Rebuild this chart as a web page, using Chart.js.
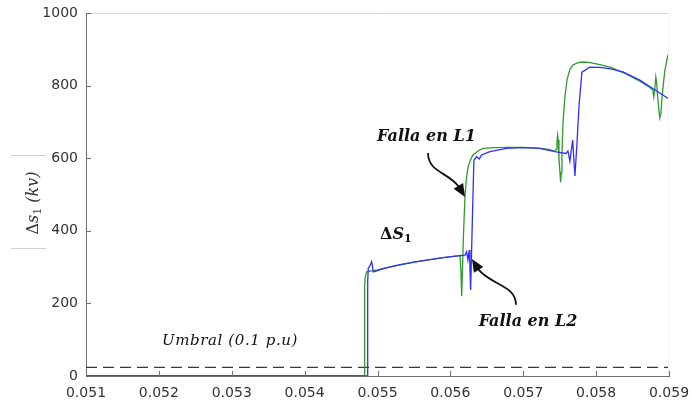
<!DOCTYPE html>
<html>
<head>
<meta charset="utf-8">
<script src="https://cdn.jsdelivr.net/npm/chart.js@4/dist/chart.umd.min.js"></script>
<style>
html,body{margin:0;padding:0;background:#fff;}
#wrap{width:691px;height:409px;position:relative;}
canvas{display:block;}
</style>
</head>
<body>
<div id="wrap"><canvas id="c" width="691" height="409"></canvas></div>
<script>
// Axis ranges
const xRange = [0.051, 0.059];
const xStep = 0.001;
const yRange = [0, 1000];
const yStep = 200;

// Green trace: time (s) / ΔS1 (kv)
const greenT = [0.0510, 0.054818, 0.054822, 0.054826, 0.054832, 0.054852, 0.05490, 0.05500, 0.05510, 0.05530,
                0.05550, 0.05570, 0.05590, 0.05610, 0.056132, 0.056145, 0.056155, 0.056166, 0.056177, 0.05620,
                0.05622, 0.056245, 0.05628, 0.05631, 0.05638, 0.056447, 0.05660, 0.05680, 0.05700, 0.05720,
                0.05735, 0.057435, 0.057455, 0.057463, 0.057472, 0.05748, 0.05749, 0.057513, 0.057522, 0.057531,
                0.057545, 0.057572, 0.05760, 0.05764, 0.057682, 0.05775, 0.057819, 0.05790, 0.058052, 0.05820,
                0.058368, 0.05860, 0.058737, 0.058778, 0.058792, 0.058805, 0.058819, 0.05883, 0.05884, 0.05886,
                0.058874, 0.05889, 0.058901, 0.05892, 0.058942, 0.05897, 0.05900];
const greenV = [0, 0, 150, 250, 273, 287, 289, 292, 297, 306,
                314, 320, 326, 331, 332, 290, 220, 290, 375, 494,
                545, 577, 597, 609, 620, 627, 629, 630, 630, 628,
                624, 619, 625, 645, 664, 650, 600, 534, 560, 610,
                697, 770, 815, 845, 857, 863, 865, 864, 858, 850,
                836, 812, 795, 788, 769, 790, 824, 810, 780, 735,
                711, 725, 760, 800, 840, 870, 893];

// Blue trace: time (s) / ΔS1 (kv)
const blueT = [0.0510, 0.054859, 0.054863, 0.054868, 0.054873, 0.05490, 0.05492, 0.054942, 0.05500, 0.055079,
               0.05530, 0.05550, 0.05570, 0.05590, 0.05610, 0.05620, 0.056223, 0.05624, 0.056259, 0.056268,
               0.056278, 0.056292, 0.056306, 0.056323, 0.05636, 0.056396, 0.056429, 0.056543, 0.056772, 0.05700,
               0.057229, 0.057435, 0.057586, 0.057613, 0.05764, 0.057678, 0.057709, 0.057737, 0.057764, 0.057805,
               0.057846, 0.057888, 0.057915, 0.058052, 0.05820, 0.058368, 0.05860, 0.058778, 0.05900];
const blueV = [0, 0, 150, 260, 296, 305, 315, 287, 290, 296,
               306, 314, 320, 326, 331, 333, 342, 320, 347, 300,
               237, 350, 466, 595, 604, 598, 609, 618, 627, 629,
               627, 618, 613, 620, 592, 650, 551, 640, 741, 837,
               842, 848, 851, 850, 846, 838, 815, 792, 763];

// Detection threshold
const umbral = 24;

const toXY = (t, v) => t.map((x, i) => ({x, y: v[i]}));

// Callouts (anchored in data units)
const labelL1 = {text: 'Falla en L1', x: 0.055672, y: 660};
const labelL2 = {text: 'Falla en L2', x: 0.057065, y: 150};
const labelDS = {x: 0.055034, y: 394};
const labelUmbral = {text: 'Umbral (0.1 p.u)', x: 0.052976, y: 96};
const arrowL1 = [[0.055693, 614], [0.055693, 562], [0.055967, 562], [0.056118, 521], [0.056201, 493]];
const arrowL2 = [[0.0569005, 196], [0.0569005, 251], [0.056544, 251], [0.056379, 295], [0.056297, 322]];

const AXIS = '#6e6e6e';
const TXT = '#333333';

const decor = {
  id: 'decor',
  afterDraw(chart) {
    const {ctx, chartArea: a, scales: {x, y}} = chart;
    const X = v => x.getPixelForValue(v), Y = v => y.getPixelForValue(v);
    ctx.save();
    // light frame top / right
    ctx.lineWidth = 1;
    ctx.strokeStyle = '#d8d8d8';
    ctx.beginPath(); ctx.moveTo(a.left, Math.round(a.top) + 0.5); ctx.lineTo(a.right, Math.round(a.top) + 0.5); ctx.stroke();
    ctx.strokeStyle = '#f2f2f2';
    ctx.beginPath(); ctx.moveTo(Math.round(a.right) - 0.5, a.top); ctx.lineTo(Math.round(a.right) - 0.5, a.bottom); ctx.stroke();
    // inward tick marks
    ctx.strokeStyle = AXIS;
    x.ticks.forEach(t => {
      const p = Math.round(X(t.value)) + 0.5;
      ctx.beginPath(); ctx.moveTo(p, a.bottom); ctx.lineTo(p, a.bottom - 5); ctx.stroke();
    });
    y.ticks.forEach(t => {
      const p = Math.round(Y(t.value)) + 0.5;
      ctx.beginPath(); ctx.moveTo(a.left, p); ctx.lineTo(a.left + 5, p); ctx.stroke();
    });

    // y-axis title: Δs1 (kv)
    ctx.strokeStyle = '#cfcfcf';
    ctx.beginPath(); ctx.moveTo(11, 155.5); ctx.lineTo(46, 155.5); ctx.stroke();
    ctx.beginPath(); ctx.moveTo(11, 248.5); ctx.lineTo(46, 248.5); ctx.stroke();
    ctx.save();
    ctx.translate(38, 203);
    ctx.rotate(-Math.PI / 2);
    ctx.fillStyle = TXT;
    ctx.textBaseline = 'alphabetic';
    const parts = [
      ['Δ', '16px "DejaVu Serif"', 0],
      ['s', 'italic 16px "DejaVu Serif"', 0],
      ['1', '11px "DejaVu Serif"', 3],
      [' (kv)', 'italic 16px "DejaVu Serif"', 0]
    ];
    let w = 0;
    parts.forEach(p => { ctx.font = p[1]; w += ctx.measureText(p[0]).width; });
    let cx = -w / 2;
    parts.forEach(p => { ctx.font = p[1]; ctx.fillText(p[0], cx, p[2]); cx += ctx.measureText(p[0]).width; });
    ctx.restore();

    // callout texts
    ctx.fillStyle = '#111';
    ctx.textBaseline = 'middle';
    ctx.textAlign = 'center';
    ctx.font = 'bold italic 16px "DejaVu Serif"';
    ctx.fillText(labelL1.text, X(labelL1.x), Y(labelL1.y));
    ctx.fillText(labelL2.text, X(labelL2.x), Y(labelL2.y));
    ctx.letterSpacing = '0.6px';
    ctx.font = 'italic 15px "DejaVu Serif"';
    ctx.fillText(labelUmbral.text, X(labelUmbral.x), Y(labelUmbral.y));
    ctx.letterSpacing = '0px';

    // ΔS1 label
    ctx.textAlign = 'left';
    ctx.textBaseline = 'alphabetic';
    let lx = X(labelDS.x), ly = Y(labelDS.y) + 6;
    ctx.font = 'bold 16px "DejaVu Serif"'; ctx.fillText('Δ', lx, ly); lx += ctx.measureText('Δ').width;
    ctx.font = 'bold italic 16px "DejaVu Serif"'; ctx.fillText('S', lx, ly); lx += ctx.measureText('S').width;
    ctx.font = 'bold 11px "DejaVu Serif"'; ctx.fillText('1', lx, ly + 3);

    // curved arrows
    const drawArrow = (pts) => {
      const P = pts.map(p => [X(p[0]), Y(p[1])]);
      ctx.strokeStyle = '#111'; ctx.lineWidth = 1.8;
      ctx.beginPath();
      ctx.moveTo(P[0][0], P[0][1]);
      ctx.bezierCurveTo(P[1][0], P[1][1], P[2][0], P[2][1], P[3][0], P[3][1]);
      ctx.stroke();
      const bx = P[3][0], by = P[3][1], tx = P[4][0], ty = P[4][1];
      const dx = tx - bx, dy = ty - by, L = Math.hypot(dx, dy);
      const nx = -dy / L * 5.5, ny = dx / L * 5.5;
      ctx.fillStyle = '#111';
      ctx.beginPath();
      ctx.moveTo(tx, ty);
      ctx.lineTo(bx + nx - dx * 0.1, by + ny - dy * 0.1);
      ctx.lineTo(bx - nx - dx * 0.1, by - ny - dy * 0.1);
      ctx.closePath();
      ctx.fill();
    };
    drawArrow(arrowL1);
    drawArrow(arrowL2);
    ctx.restore();
  }
};

new Chart(document.getElementById('c'), {
  type: 'line',
  data: {
    datasets: [
      {data: toXY(blueT, blueV), borderColor: '#2f2fff', borderWidth: 1.3, pointRadius: 0, tension: 0},
      {data: toXY(greenT, greenV), borderColor: '#2e9a2e', borderWidth: 1.3, pointRadius: 0, tension: 0},
      {data: toXY(xRange, [umbral, umbral]), borderColor: '#3a3a3a', borderWidth: 1.3, borderDash: [11, 6], pointRadius: 0}
    ]
  },
  options: {
    responsive: false,
    animation: false,
    layout: {padding: {left: 0, right: 22, top: 13, bottom: 0}},
    plugins: {legend: {display: false}, tooltip: {enabled: false}},
    scales: {
      x: {
        type: 'linear', min: xRange[0], max: xRange[1],
        afterFit: s => { s.height = 33; s.paddingLeft = 0; s.paddingRight = 0; },
        afterBuildTicks: s => {
          const t = [];
          for (let v = xRange[0]; v <= xRange[1] + 1e-9; v += xStep) t.push({value: +v.toFixed(3)});
          s.ticks = t;
        },
        grid: {display: true, drawOnChartArea: false, drawTicks: false},
        border: {display: true, color: AXIS, width: 1},
        ticks: {
          padding: 9, color: TXT, maxRotation: 0, autoSkip: false,
          font: {family: '"DejaVu Sans"', size: 14},
          callback: v => v.toFixed(3)
        }
      },
      y: {
        min: yRange[0], max: yRange[1],
        afterFit: s => { s.width = 86; s.paddingTop = 0; s.paddingBottom = 0; },
        grid: {display: true, drawOnChartArea: false, drawTicks: false},
        border: {display: true, color: AXIS, width: 1},
        ticks: {
          stepSize: yStep, padding: 8, color: TXT,
          font: {family: '"DejaVu Sans"', size: 14},
          callback: v => String(v)
        }
      }
    }
  },
  plugins: [decor]
});
</script>
</body>
</html>
